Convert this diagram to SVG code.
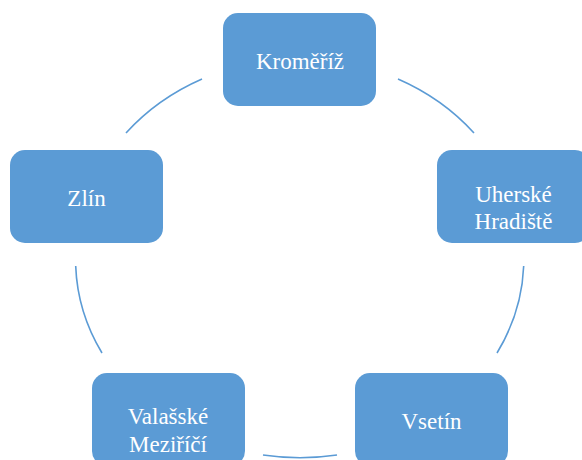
<svg xmlns="http://www.w3.org/2000/svg" width="582" height="460" viewBox="0 0 582 460">
<style>
.box{fill:#5B9BD5;}
.arc{fill:none;stroke:#5B9BD5;stroke-width:1.6;}
</style>
<rect width="582" height="460" fill="#FFFFFF"/>
<g id="connectors">
<path class="arc" d="M398,79 A225,199 0 0 1 474,133"/>
<path class="arc" d="M523.7,266 A225,199 0 0 1 497,353"/>
<path class="arc" d="M337,455 A225,199 0 0 1 263,455"/>
<path class="arc" d="M102,353 A225,199 0 0 1 75.7,266"/>
<path class="arc" d="M126,133 A225,199 0 0 1 202,79"/>
</g>
<g font-family="Liberation Serif, Times New Roman, serif" font-size="23" fill="#FFFFFF" text-anchor="middle">
<g id="kromeriz">
<rect class="box" x="223" y="13" width="153" height="93" rx="15"/>
<text x="300" y="68.5">Kroměříž</text>
</g>
<g id="uherske-hradiste">
<rect class="box" x="437" y="150" width="153" height="93" rx="15"/>
<text x="513.5" y="201.7">Uherské</text>
<text x="513.5" y="229.3">Hradiště</text>
</g>
<g id="vsetin">
<rect class="box" x="355" y="373" width="153" height="93" rx="15"/>
<text x="431.5" y="429">Vsetín</text>
</g>
<g id="valasske-mezirici">
<rect class="box" x="92" y="373" width="153" height="93" rx="15"/>
<text x="168" y="424.3">Valašské</text>
<text x="168" y="451.7">Meziříčí</text>
</g>
<g id="zlin">
<rect class="box" x="10" y="150" width="153" height="93" rx="15"/>
<text x="86.5" y="206">Zlín</text>
</g>
</g>
</svg>
